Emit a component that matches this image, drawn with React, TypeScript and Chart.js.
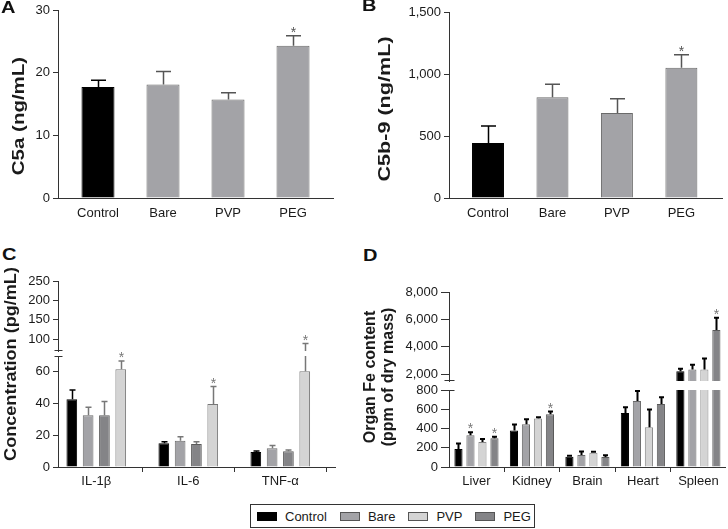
import React, { useEffect, useRef } from 'react';
import { Chart, registerables } from 'chart.js';

Chart.register(...registerables);

const FONT = "'Liberation Sans', Arial, Helvetica, sans-serif";
Chart.defaults.font.family = FONT;
Chart.defaults.color = '#1a1a1a';

// ---------------- DATA ----------------
// Panel A – C5a
const groupsAB = ['Control', 'Bare', 'PVP', 'PEG'];
const c5aMean = [17.7, 18.1, 15.7, 24.3];
const c5aErr = [1.1, 2.1, 1.1, 1.6];
const c5aStar = [false, false, false, true];
const c5aTicks = [0, 10, 20, 30];

// Panel B – C5b-9
const c5b9Mean = [444, 812, 685, 1051];
const c5b9Err = [137, 105, 116, 105];
const c5b9Star = [false, false, false, true];
const c5b9Ticks = [0, 500, 1000, 1500];

// Panel C – cytokines
const cytokines = ['IL-1β', 'IL-6', 'TNF-α'];
const cytoControl = [42.8, 15.0, 9.5];
const cytoControlErr = [5.8, 1.0, 0.6];
const cytoBare = [32.6, 16.6, 11.8];
const cytoBareErr = [5.1, 2.5, 1.7];
const cytoPVP = [32.6, 14.5, 9.9];
const cytoPVPErr = [8.7, 1.5, 0.8];
const cytoPEG = [61.7, 39.8, 60.4];
const cytoPEGErr = [5.1, 10.9, 28.6];
const cytoNoStar = [false, false, false];
const cytoPEGStar = [true, true, true];
const cytoTicksLow = [0, 20, 40, 60];
const cytoTicksHigh = [100, 150, 200, 250];

// Panel D – organ Fe
const organs = ['Liver', 'Kidney', 'Brain', 'Heart', 'Spleen'];
const feControl = [186, 379, 107, 562, 2220];
const feControlErr = [59, 62, 10, 59, 170];
const feBare = [331, 445, 124, 686, 2341];
const feBareErr = [31, 52, 38, 104, 342];
const fePVP = [259, 503, 148, 414, 2341];
const fePVPErr = [31, 14, 11, 183, 805];
const fePEG = [300, 548, 103, 655, 5220];
const fePEGErr = [14, 28, 18, 69, 902];
const feNoStar = [false, false, false, false, false];
const feBareStar = [true, false, false, false, false];
const fePEGStar = [true, true, false, false, true];
const feTicksLow = [0, 200, 400, 600, 800];
const feTicksHigh = [2000, 4000, 6000, 8000];

const legendItems = ['Control', 'Bare', 'PVP', 'PEG'];

// ---------------- STYLE ----------------
const AXIS = '#333333';
const BLACK = '#000000';
const GRAY = '#a3a3a7';
const DARK = '#848487';
const LIGHT = '#d4d4d4';
const BORDER = '#6a6a6a';
const legendColors = [BLACK, GRAY, LIGHT, DARK];

// ---------------- PLUGINS ----------------
const errorBarPlugin = {
  id: 'errorBars',
  afterDatasetsDraw(chart: any, _args: any, opts: any) {
    const { ctx, chartArea: a } = chart;
    const y = chart.scales.y;
    chart.data.datasets.forEach((ds: any, di: number) => {
      const meta = chart.getDatasetMeta(di);
      meta.data.forEach((bar: any, i: number) => {
        const v = ds.data[i].y;
        const e = ds.errors ? ds.errors[i] : null;
        if (e == null) return;
        const pTop = y.getPixelForValue(v);
        const pErr = y.getPixelForValue(v + e);
        const x = Math.round(bar.x) + 0.5;
        const col = Array.isArray(ds.errorColor) ? ds.errorColor[i] : ds.errorColor;
        if (pErr < a.bottom) {
          ctx.save();
          ctx.beginPath();
          ctx.rect(a.left, a.top, a.right - a.left, a.bottom - a.top);
          ctx.clip();
          ctx.strokeStyle = col;
          ctx.lineWidth = opts.lineWidth;
          ctx.beginPath();
          ctx.moveTo(x, Math.min(pTop, a.bottom));
          ctx.lineTo(x, pErr);
          ctx.moveTo(x - opts.capWidth / 2, pErr);
          ctx.lineTo(x + opts.capWidth / 2, pErr);
          ctx.stroke();
          ctx.restore();
        }
        if (ds.stars && ds.stars[i] && pErr >= a.top - 6 && pErr < a.bottom - 4) {
          ctx.save();
          ctx.fillStyle = opts.starColor;
          ctx.font = `14px ${FONT}`;
          ctx.textAlign = 'center';
          ctx.textBaseline = 'alphabetic';
          ctx.fillText('*', x, pErr + 1);
          ctx.restore();
        }
      });
    });
  },
};

const axisBreakPlugin = {
  id: 'axisBreak',
  afterDraw(chart: any, _args: any, opts: any) {
    if (!opts || (!opts.top && !opts.bottom)) return;
    const { ctx, chartArea: a } = chart;
    const x = Math.round(a.left) + 0.5;
    const h = opts.half || 4;
    ctx.save();
    ctx.strokeStyle = AXIS;
    ctx.lineWidth = 1;
    ctx.beginPath();
    if (opts.top) {
      const yy = Math.round(a.top) + 0.5;
      ctx.moveTo(x - h, yy);
      ctx.lineTo(x + h, yy);
    }
    if (opts.bottom) {
      const yy = Math.round(a.bottom) - 0.5;
      ctx.moveTo(x - h, yy);
      ctx.lineTo(x + h, yy);
    }
    ctx.stroke();
    ctx.restore();
  },
};

// ---------------- PANEL ----------------
type DS = {
  label: string;
  values: number[];
  errors: number[];
  stars: boolean[];
  color: string | string[];
  border: string | string[];
  errColor: string | string[];
};

type Spec = {
  left: number; top: number; width: number; height: number;
  padTop: number; padRight: number; padBottom: number;
  yWidth: number; xHeight: number; showX: boolean; xTickMarks: boolean; xLabelPad: number;
  xMin: number; xMax: number; categories: string[];
  yMin: number; yMax: number; yTicks: number[]; yTickLen: number;
  catPct: number; barPct: number; capW: number; errW: number; starColor: string;
  breakTop?: boolean; breakBottom?: boolean; breakHalf?: number;
  datasets: DS[];
};

function BarPanel({ spec }: { spec: Spec }) {
  const ref = useRef<HTMLCanvasElement | null>(null);
  useEffect(() => {
    if (!ref.current) return;
    const s = spec;
    const chart = new Chart(ref.current, {
      type: 'bar',
      data: {
        datasets: s.datasets.map((d) => ({
          label: d.label,
          data: d.values.map((v, i) => ({ x: i, y: v })),
          backgroundColor: d.color,
          borderColor: d.border,
          borderWidth: 1,
          categoryPercentage: s.catPct,
          barPercentage: s.barPct,
          clip: 0,
          errors: d.errors,
          stars: d.stars,
          errorColor: d.errColor,
        })) as any,
      },
      options: {
        responsive: false,
        animation: false,
        devicePixelRatio: 1,
        layout: { padding: { top: s.padTop, right: s.padRight, bottom: s.padBottom, left: 0 } },
        plugins: {
          legend: { display: false },
          tooltip: { enabled: false },
          errorBars: { capWidth: s.capW, lineWidth: s.errW, starColor: s.starColor },
          axisBreak: { top: !!s.breakTop, bottom: !!s.breakBottom, half: s.breakHalf || 4 },
        } as any,
        scales: {
          x: {
            type: 'linear',
            min: s.xMin,
            max: s.xMax,
            display: s.showX,
            offset: false,
            afterBuildTicks: (sc: any) => {
              sc.ticks = s.categories.map((_c, i) => ({ value: i }));
            },
            afterFit: (sc: any) => {
              sc.height = s.xHeight;
              sc.paddingLeft = 0;
              sc.paddingRight = 0;
            },
            grid: {
              display: s.xTickMarks,
              drawOnChartArea: false,
              drawTicks: s.xTickMarks,
              tickLength: 5,
              color: AXIS,
            },
            border: { display: true, color: AXIS, width: 1 },
            ticks: {
              autoSkip: false,
              maxRotation: 0,
              padding: s.xLabelPad,
              font: { size: 13 },
              color: '#1a1a1a',
              callback: (v: any) => s.categories[v] ?? '',
            },
          } as any,
          y: {
            type: 'linear',
            min: s.yMin,
            max: s.yMax,
            afterBuildTicks: (sc: any) => {
              sc.ticks = s.yTicks.map((v) => ({ value: v }));
            },
            afterFit: (sc: any) => {
              sc.width = s.yWidth;
              sc.paddingTop = 0;
              sc.paddingBottom = 0;
            },
            grid: {
              display: true,
              drawOnChartArea: false,
              drawTicks: true,
              tickLength: s.yTickLen,
              color: AXIS,
            },
            border: { display: true, color: AXIS, width: 1 },
            ticks: {
              padding: 3,
              font: { size: 13 },
              color: '#1a1a1a',
              callback: (v: any) => Number(v).toLocaleString('en-US'),
            },
          } as any,
        },
      },
      plugins: [errorBarPlugin as any, axisBreakPlugin as any],
    });
    return () => chart.destroy();
  }, [spec]);
  return (
    <canvas
      ref={ref}
      width={spec.width}
      height={spec.height}
      style={{ position: 'absolute', left: spec.left, top: spec.top, width: spec.width, height: spec.height }}
    />
  );
}

// ---------------- SPECS ----------------
const abColors = [BLACK, GRAY, GRAY, GRAY];
const abBorders = [BLACK, BORDER, BORDER, BORDER];
const abErr = [BLACK, '#555555', '#555555', '#555555'];

const specA: Spec = {
  left: 0, top: 0, width: 340, height: 225,
  padTop: 10, padRight: 7, padBottom: 0,
  yWidth: 58, xHeight: 27, showX: true, xTickMarks: false, xLabelPad: 8,
  xMin: -0.615, xMax: 3.615, categories: groupsAB,
  yMin: 0, yMax: 30, yTicks: c5aTicks, yTickLen: 5,
  catPct: 1, barPct: 0.508, capW: 15, errW: 1.5, starColor: '#555555',
  datasets: [{ label: 'C5a', values: c5aMean, errors: c5aErr, stars: c5aStar, color: abColors, border: abBorders, errColor: abErr }],
};

const specB: Spec = {
  left: 364, top: 0, width: 364, height: 225,
  padTop: 12, padRight: 6, padBottom: 0,
  yWidth: 85, xHeight: 27, showX: true, xTickMarks: false, xLabelPad: 8,
  xMin: -0.605, xMax: 3.63, categories: groupsAB,
  yMin: 0, yMax: 1500, yTicks: c5b9Ticks, yTickLen: 5,
  catPct: 1, barPct: 0.496, capW: 15, errW: 1.5, starColor: '#555555',
  datasets: [{ label: 'C5b-9', values: c5b9Mean, errors: c5b9Err, stars: c5b9Star, color: abColors, border: abBorders, errColor: abErr }],
};

const cDatasets: DS[] = [
  { label: 'Control', values: cytoControl, errors: cytoControlErr, stars: cytoNoStar, color: BLACK, border: BLACK, errColor: BLACK },
  { label: 'Bare', values: cytoBare, errors: cytoBareErr, stars: cytoNoStar, color: GRAY, border: BORDER, errColor: '#777777' },
  { label: 'PVP', values: cytoPVP, errors: cytoPVPErr, stars: cytoNoStar, color: DARK, border: '#5a5a5a', errColor: '#777777' },
  { label: 'PEG', values: cytoPEG, errors: cytoPEGErr, stars: cytoPEGStar, color: LIGHT, border: '#777777', errColor: '#777777' },
];

const specCTop: Spec = {
  left: 0, top: 268, width: 345, height: 86,
  padTop: 13, padRight: 10, padBottom: 3,
  yWidth: 58, xHeight: 0, showX: false, xTickMarks: false, xLabelPad: 2,
  xMin: -0.416, xMax: 2.595, categories: cytokines,
  yMin: 70, yMax: 250, yTicks: cytoTicksHigh, yTickLen: 5,
  catPct: 0.709, barPct: 0.656, capW: 6, errW: 1.5, starColor: '#777777',
  breakBottom: true, breakHalf: 4,
  datasets: cDatasets,
};

const specCBot: Spec = {
  left: 0, top: 345, width: 345, height: 152,
  padTop: 11, padRight: 10, padBottom: 0,
  yWidth: 58, xHeight: 30, showX: true, xTickMarks: true, xLabelPad: 2,
  xMin: -0.416, xMax: 2.595, categories: cytokines,
  yMin: 0, yMax: 70, yTicks: cytoTicksLow, yTickLen: 5,
  catPct: 0.709, barPct: 0.656, capW: 6, errW: 1.5, starColor: '#777777',
  breakTop: true, breakHalf: 4,
  datasets: cDatasets,
};

const dDatasets: DS[] = [
  { label: 'Control', values: feControl, errors: feControlErr, stars: feNoStar, color: BLACK, border: BLACK, errColor: BLACK },
  { label: 'Bare', values: feBare, errors: feBareErr, stars: feBareStar, color: GRAY, border: BORDER, errColor: BLACK },
  { label: 'PVP', values: fePVP, errors: fePVPErr, stars: feNoStar, color: LIGHT, border: '#888888', errColor: BLACK },
  { label: 'PEG', values: fePEG, errors: fePEGErr, stars: fePEGStar, color: DARK, border: '#5a5a5a', errColor: BLACK },
];

const specDTop: Spec = {
  left: 364, top: 278, width: 364, height: 106,
  padTop: 14, padRight: 3, padBottom: 3,
  yWidth: 85, xHeight: 0, showX: false, xTickMarks: false, xLabelPad: 2,
  xMin: -0.495, xMax: 4.48, categories: organs,
  yMin: 1500, yMax: 8000, yTicks: feTicksHigh, yTickLen: 8,
  catPct: 0.865, barPct: 0.68, capW: 5, errW: 2, starColor: '#777777',
  breakBottom: true, breakHalf: 5,
  datasets: dDatasets,
};

const specDBot: Spec = {
  left: 364, top: 382, width: 364, height: 115,
  padTop: 8, padRight: 3, padBottom: 0,
  yWidth: 85, xHeight: 30, showX: true, xTickMarks: true, xLabelPad: 2,
  xMin: -0.495, xMax: 4.48, categories: organs,
  yMin: 0, yMax: 800, yTicks: feTicksLow, yTickLen: 8,
  catPct: 0.865, barPct: 0.68, capW: 5, errW: 2, starColor: '#777777',
  breakTop: true, breakHalf: 5,
  datasets: dDatasets,
};

// ---------------- TEXT OVERLAYS ----------------
function YTitle({ cx, cy, scale, children }: { cx: number; cy: number; scale: number; children: any }) {
  return (
    <div
      style={{
        position: 'absolute',
        left: cx,
        top: cy,
        transform: `translate(-50%, -50%) rotate(-90deg) scaleX(${scale})`,
        whiteSpace: 'nowrap',
        font: `bold 16px ${FONT}`,
        lineHeight: '18px',
        textAlign: 'center',
        color: '#1a1a1a',
      }}
    >
      {children}
    </div>
  );
}

function Letter({ x, y, children }: { x: number; y: number; children: any }) {
  return (
    <div
      style={{
        position: 'absolute',
        left: x,
        top: y,
        font: `bold 16px ${FONT}`,
        lineHeight: '16px',
        transform: 'scaleX(1.25)',
        transformOrigin: 'left top',
        color: '#111',
      }}
    >
      {children}
    </div>
  );
}

export default function App() {
  return (
    <div
      style={{
        position: 'fixed',
        left: 0,
        top: 0,
        width: 728,
        height: 529,
        background: '#ffffff',
        overflow: 'hidden',
        fontFamily: FONT,
      }}
    >
      <BarPanel spec={specA} />
      <BarPanel spec={specB} />
      <BarPanel spec={specCTop} />
      <BarPanel spec={specCBot} />
      <BarPanel spec={specDTop} />
      <BarPanel spec={specDBot} />

      <Letter x={1} y={0}>A</Letter>
      <Letter x={362} y={-2}>B</Letter>
      <Letter x={2} y={247}>C</Letter>
      <Letter x={363} y={248}>D</Letter>

      <YTitle cx={19} cy={116} scale={1.28}>C5a (ng/mL)</YTitle>
      <YTitle cx={385} cy={109} scale={1.35}>C5b-9 (ng/mL)</YTitle>
      <YTitle cx={11} cy={364} scale={1.13}>Concentration (pg/mL)</YTitle>
      <YTitle cx={379} cy={377} scale={1.0}>
        Organ Fe content
        <br />
        (ppm of dry mass)
      </YTitle>

      <div
        style={{
          position: 'absolute',
          left: 250,
          top: 504,
          width: 285,
          height: 24,
          boxSizing: 'border-box',
          border: '1px solid #333',
          display: 'flex',
          alignItems: 'center',
          paddingLeft: 6,
          gap: 13,
          font: `13px ${FONT}`,
          color: '#1a1a1a',
        }}
      >
        {legendItems.map((name, i) => (
          <div key={name} style={{ display: 'flex', alignItems: 'center' }}>
            <span
              style={{
                display: 'inline-block',
                width: 20,
                height: 9,
                boxSizing: 'border-box',
                background: legendColors[i],
                border: `1px solid ${i === 0 ? '#000' : '#555'}`,
                marginRight: 8,
              }}
            />
            <span>{name}</span>
          </div>
        ))}
      </div>
    </div>
  );
}
